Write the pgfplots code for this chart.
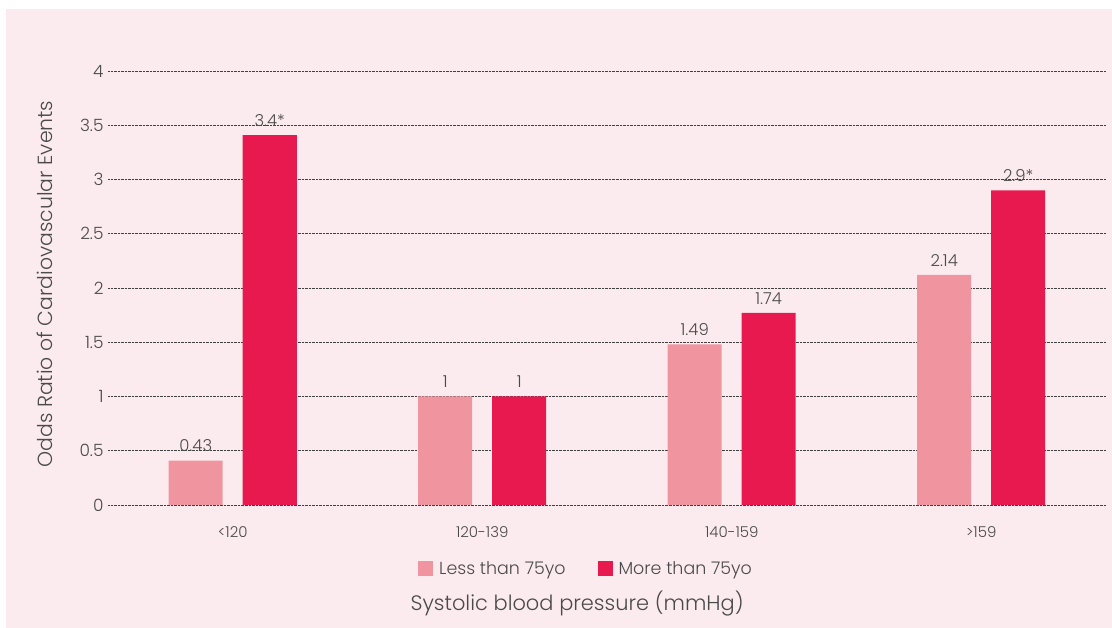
\documentclass[border=0pt]{standalone}
\usepackage{pgfplots}
\pgfplotsset{compat=1.18}
\usepackage{fontspec}
\setmainfont{Poppins}[UprightFont={* Light}]
\definecolor{bgpink}{HTML}{FBEBEE}
\definecolor{lightbar}{HTML}{F0959F}
\definecolor{darkbar}{HTML}{E8194F}
\definecolor{txt}{HTML}{4A4A4A}
\begin{document}
\begin{tikzpicture}[x=1bp,y=1bp]
\fill[white] (0,0) rectangle (1112,628);
\fill[bgpink] (6,0) rectangle (1112,619);
\begin{axis}[
  at={(108bp,123bp)}, anchor=south west,
  scale only axis, width=998bp, height=434bp,
  ybar, bar width=54bp,
  xmin=-0.5, xmax=3.5, ymin=0, ymax=4,
  xtick={0,1,2,3}, xticklabels={<120,120-139,140-159,>159},
  ytick={0,0.5,...,4},
  yticklabels={0,0.5,1,1.5,2,2.5,3,3.5,4},
  axis line style={draw=none},
  tick style={draw=none},
  ymajorgrids, major grid style={densely dotted, black!75, line width=0.7bp},
  xticklabel style={font=\fontsize{15}{17}\selectfont, text=txt, yshift=-14bp},
  yticklabel style={font=\fontsize{17}{19}\selectfont, text=txt, xshift=-1bp},
  ylabel={Odds Ratio of Cardiovascular Events},
  ylabel style={font=\fontsize{20.5}{23}\selectfont, text=txt, at={(axis description cs:-0.063,0.509)}, anchor=center},
  xlabel={Systolic blood pressure (mmHg)},
  xlabel style={font=\fontsize{21}{23}\selectfont, text=txt, at={(axis description cs:0.47,0)}, anchor=center, yshift=-99bp},
  legend style={draw=none, fill=none, at={(axis description cs:0.479,0)}, anchor=center, yshift=-64bp,
    font=\fontsize{17.5}{19}\selectfont, text=txt, legend columns=2,
    /tikz/every even column/.append style={column sep=30bp}},
  legend image code/.code={\fill[#1] (0bp,-7.5bp) rectangle (15bp,7.5bp); \path (19bp,0bp);},
  nodes near coords, point meta=explicit symbolic,
  every node near coord/.append style={font=\fontsize{16.5}{18}\selectfont, text=txt, yshift=5bp},
  clip=false,
]
\addplot[bar shift=-37bp, fill=lightbar, draw=none] coordinates {
  (0,0.41) [0.43] (1,1) [1] (2,1.48) [1.49] (3,2.12) [2.14]};
\addlegendentry{Less than 75yo}
\addplot[bar shift=37bp, fill=darkbar, draw=none] coordinates {
  (0,3.41) [3.4*] (1,1) [1] (2,1.77) [1.74] (3,2.9) [2.9*]};
\addlegendentry{More than 75yo}
\end{axis}
\end{tikzpicture}
\end{document}
